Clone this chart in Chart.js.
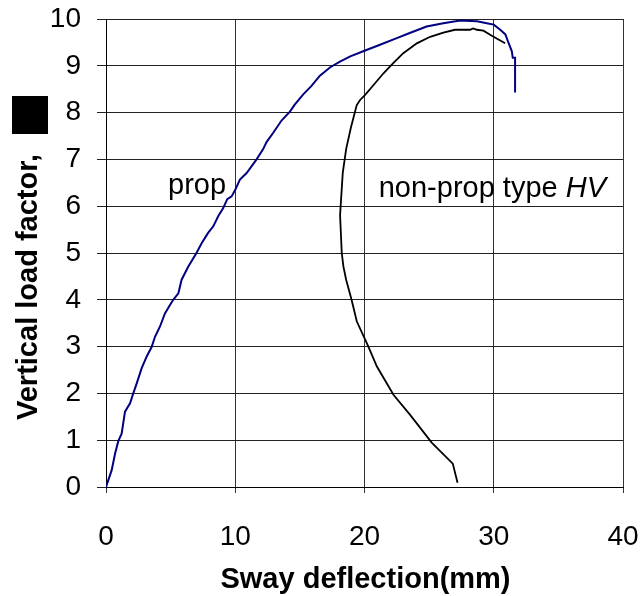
<!DOCTYPE html>
<html>
<head>
<meta charset="utf-8">
<script src="https://cdn.jsdelivr.net/npm/chart.js@4/dist/chart.umd.min.js"></script>
<style>
  html, body { margin: 0; padding: 0; background: #fff; }
  #wrap { width: 640px; height: 596px; }
</style>
</head>
<body>
<div id="wrap"><canvas id="swayChart"></canvas></div>
<script>
// prop curve (blue)
const propX = [0, 0.44, 0.7, 0.95, 1.21, 1.47, 1.86, 2.11, 2.37, 2.76, 3.15, 3.53, 3.79, 4.18, 4.56,
    4.95, 5.2, 5.6, 5.85, 6.37, 7.0, 7.4, 7.9, 8.3, 8.69, 9.07, 9.38, 9.72, 10.0, 10.36,
    10.88, 11.65, 12.16, 12.42, 12.94, 13.58, 14.23, 14.6, 15.26, 15.9, 16.55, 17.35, 18.1, 18.9, 19.9,
    21.2, 22.5, 23.5, 24.8, 26.1, 27.4, 28.7, 29.46, 30.0, 30.5, 30.9, 31.1, 31.4, 31.47, 31.65, 31.65];
const propY = [0, 0.36, 0.71, 0.98, 1.14, 1.61, 1.79, 2.0, 2.21, 2.54, 2.79, 2.99, 3.21, 3.43, 3.71,
    3.89, 4.0, 4.14, 4.43, 4.71, 5.0, 5.21, 5.43, 5.57, 5.79, 5.96, 6.15, 6.21, 6.35, 6.57,
    6.71, 7.0, 7.22, 7.37, 7.57, 7.83, 8.02, 8.17, 8.39, 8.57, 8.79, 8.97, 9.09, 9.2, 9.31,
    9.45, 9.59, 9.7, 9.84, 9.91, 9.97, 9.95, 9.91, 9.88, 9.77, 9.67, 9.52, 9.31, 9.17, 9.17, 8.43];

// non-prop type HV curve (black)
const nonPropX = [27.2, 26.83, 25.2, 23.53, 22.24, 20.95, 20.3, 19.4, 19.0, 18.58, 18.37, 18.24, 18.11,
    18.32, 18.58, 18.94, 19.4, 19.66, 20.05, 20.7, 21.47, 22.24, 23.0, 24.05, 25.08, 26.1, 27.0,
    28.17, 28.4, 28.7, 29.2, 29.85, 30.88];
const nonPropY = [0.09, 0.5, 0.95, 1.54, 1.97, 2.58, 3.0, 3.54, 4.0, 4.43, 4.71, 5.0, 5.81,
    6.72, 7.22, 7.67, 8.16, 8.27, 8.38, 8.59, 8.84, 9.06, 9.27, 9.48, 9.62, 9.71, 9.77,
    9.77, 9.8, 9.77, 9.75, 9.64, 9.48];

const xRange = [0, 40];
const yRange = [0, 10];
const xTitle = 'Sway deflection(mm)';
const yTitle = 'Vertical load factor,';

// curve labels: [text, italic part, x, y]
const curveLabels = [
    ['prop', '', 4.8, 6.26],
    ['non-prop type ', 'HV', 21.1, 6.2]
];

const FONT = "'Liberation Sans', Arial, sans-serif";

function toPoints(xs, ys) {
    return xs.map((x, i) => ({ x: x, y: ys[i] }));
}

const textPlugin = {
    id: 'textPlugin',
    afterDraw(chart) {
        const ctx = chart.ctx;
        const xs = chart.scales.x, ys = chart.scales.y;
        ctx.save();
        ctx.fillStyle = '#000';

        // labels next to the curves
        ctx.textBaseline = 'alphabetic';
        ctx.textAlign = 'left';
        curveLabels.forEach(l => {
            const px = xs.getPixelForValue(l[2]);
            const py = ys.getPixelForValue(l[3]);
            ctx.font = '29px ' + FONT;
            ctx.fillText(l[0], px, py);
            if (l[1]) {
                const w = ctx.measureText(l[0]).width;
                ctx.font = 'italic 29px ' + FONT;
                ctx.fillText(l[1], px + w, py);
            }
        });

        // x title
        ctx.font = 'bold 29px ' + FONT;
        ctx.textAlign = 'center';
        ctx.fillText(xTitle, (xs.left + xs.right) / 2 + 1, 588);

        // y title, rotated, with the black box after it
        ctx.translate(37, 420);
        ctx.rotate(-Math.PI / 2);
        ctx.textAlign = 'left';
        ctx.font = 'bold 29px ' + FONT;
        ctx.fillText(yTitle, 0, 0);
        const tw = ctx.measureText(yTitle).width;
        ctx.fillRect(Math.max(tw + 12, 286), -25, 38, 36);
        ctx.restore();
    }
};

const ctx = document.getElementById('swayChart');
new Chart(ctx, {
    type: 'scatter',
    data: {
        datasets: [{
            label: 'prop',
            data: toPoints(propX, propY),
            showLine: true,
            borderColor: '#000080',
            borderWidth: 2,
            pointRadius: 0,
            tension: 0
        }, {
            label: 'non-prop type HV',
            data: toPoints(nonPropX, nonPropY),
            showLine: true,
            borderColor: '#000000',
            borderWidth: 1.8,
            pointRadius: 0,
            tension: 0
        }]
    },
    options: {
        responsive: true,
        maintainAspectRatio: false,
        animation: false,
        layout: { padding: { top: 19, right: 17, left: 0, bottom: 0 } },
        plugins: {
            legend: { display: false },
            tooltip: { enabled: false }
        },
        scales: {
            x: {
                type: 'linear',
                min: xRange[0],
                max: xRange[1],
                afterFit(scale) {
                    scale.height = 109;
                    scale.paddingLeft = 0;
                    scale.paddingRight = 0;
                },
                border: { color: '#000', width: 1 },
                grid: { color: '#333', lineWidth: 1, tickLength: 6, drawTicks: true },
                ticks: {
                    stepSize: 10,
                    color: '#000',
                    padding: 27,
                    maxRotation: 0,
                    font: { family: FONT, size: 28 }
                }
            },
            y: {
                type: 'linear',
                min: yRange[0],
                max: yRange[1],
                afterFit(scale) {
                    scale.width = 106;
                    scale.paddingTop = 0;
                    scale.paddingBottom = 0;
                },
                border: { color: '#000', width: 1 },
                grid: { color: '#222', lineWidth: 1, tickLength: 9, drawTicks: true },
                ticks: {
                    stepSize: 1,
                    color: '#000',
                    padding: 16,
                    font: { family: FONT, size: 28 }
                }
            }
        }
    },
    plugins: [textPlugin]
});
</script>
</body>
</html>
